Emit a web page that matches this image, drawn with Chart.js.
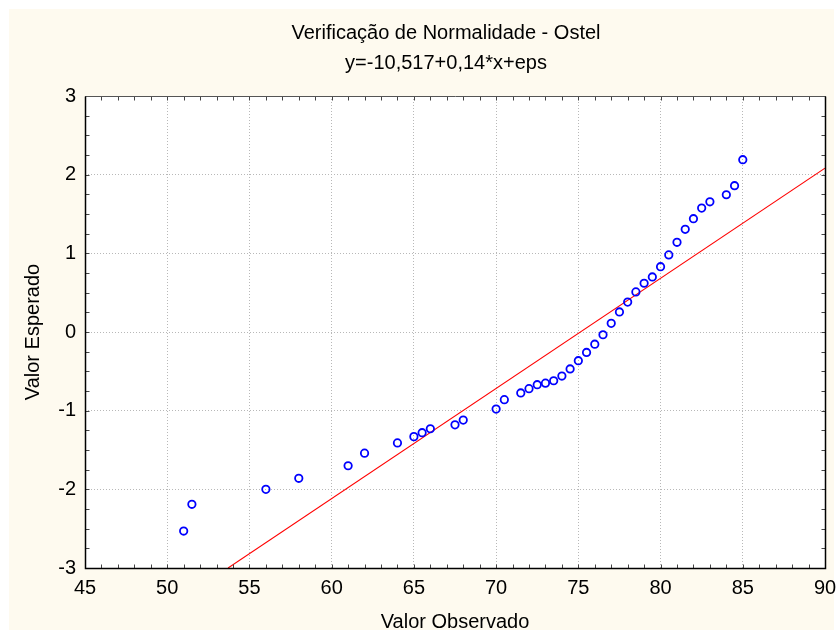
<!DOCTYPE html>
<html>
<head>
<meta charset="utf-8">
<script src="https://cdn.jsdelivr.net/npm/chart.js@4/dist/chart.umd.min.js"></script>
<style>
html,body{margin:0;padding:0;background:#ffffff;}
canvas{display:block;}
</style>
</head>
<body>
<canvas id="c" width="839" height="634"></canvas>
<script>
// ---- data ----
const chartTitle = ['Verificação de Normalidade - Ostel', 'y=-10,517+0,14*x+eps'];
const xAxisTitle = 'Valor Observado';
const yAxisTitle = 'Valor Esperado';

const observed = [51, 51.5, 56, 58, 61, 62, 64, 65, 65.5, 66, 67.5, 68, 70, 70.5, 71.5, 72, 72.5, 73, 73.5, 74,
  74.5, 75, 75.5, 76, 76.5, 77, 77.5, 78, 78.5, 79, 79.5, 80, 80.5, 81, 81.5, 82, 82.5, 83, 84, 84.5, 85];
const expected = [-2.53, -2.19, -2.00, -1.86, -1.70, -1.54, -1.41, -1.33, -1.28, -1.23, -1.18, -1.12, -0.98, -0.86,
  -0.775, -0.72, -0.67, -0.65, -0.62, -0.56, -0.47, -0.365, -0.26, -0.155, -0.035, 0.11, 0.255, 0.38, 0.51, 0.62,
  0.70, 0.83, 0.98, 1.14, 1.305, 1.44, 1.575, 1.655, 1.745, 1.86, 2.19];

// fitted line endpoints
const fitX = [53.7, 90];
const fitY = [-3, 2.083];

const xRange = [45, 90];
const yRange = [-3, 3];

const FONT = '"Liberation Sans", Arial, sans-serif';

const scatterData = observed.map((v, i) => ({x: v, y: expected[i]}));
const fitData = fitX.map((v, i) => ({x: v, y: fitY[i]}));

const bgPlugin = {
  id: 'bg',
  afterLayout(chart) {
    // centre the title block as in the reference
    const tb = chart.titleBlock;
    if (tb) { tb.left = 52; tb.right = 840; tb.width = 788; }
  },
  beforeDraw(chart) {
    const {ctx, chartArea: a, width, height} = chart;
    ctx.save();
    ctx.fillStyle = '#ffffff';
    ctx.fillRect(0, 0, width, height);
    ctx.fillStyle = '#fefaef';
    ctx.fillRect(9, 9, width - 14, height - 13);
    ctx.fillStyle = '#ffffff';
    ctx.fillRect(a.left, a.top, a.right - a.left, a.bottom - a.top);
    ctx.restore();
  }
};

const framePlugin = {
  id: 'frame',
  afterDraw(chart) {
    const {ctx, chartArea: a, scales} = chart;
    const xs = scales.x, ys = scales.y;
    ctx.save();
    ctx.lineWidth = 1;
    const L = Math.round(a.left) + 0.5, R = Math.round(a.right) + 0.5;
    const T = Math.round(a.top) + 0.5, B = Math.round(a.bottom) + 0.5;
    ctx.beginPath();
    for (let v = xRange[0]; v <= xRange[1]; v += 1) {
      const px = Math.round(xs.getPixelForValue(v)) + 0.5;
      ctx.moveTo(px, B); ctx.lineTo(px, B - 4);
      ctx.moveTo(px, T); ctx.lineTo(px, T + 4);
    }
    for (let v = yRange[0]; v <= yRange[1] + 1e-9; v += 0.25) {
      const py = Math.round(ys.getPixelForValue(v)) + 0.5;
      ctx.moveTo(L, py); ctx.lineTo(L + 4, py);
      ctx.moveTo(R, py); ctx.lineTo(R - 4, py);
    }
    ctx.strokeStyle = '#444444';
    ctx.stroke();
    ctx.beginPath();
    ctx.strokeStyle = '#555555';
    ctx.moveTo(L, T); ctx.lineTo(R, T);
    ctx.stroke();
    ctx.beginPath();
    ctx.strokeStyle = '#000000';
    ctx.lineWidth = 1.5;
    ctx.moveTo(L, T); ctx.lineTo(L, B); ctx.lineTo(R, B); ctx.lineTo(R, T);
    ctx.stroke();
    ctx.restore();
  }
};

new Chart(document.getElementById('c'), {
  type: 'scatter',
  data: {
    datasets: [
      {
        type: 'line',
        data: fitData,
        borderColor: '#ff0000',
        borderWidth: 1.1,
        pointRadius: 0,
        fill: false,
        order: 2
      },
      {
        data: scatterData,
        pointStyle: 'circle',
        pointRadius: 3.7,
        pointBorderWidth: 1.8,
        pointBorderColor: '#0000ff',
        pointBackgroundColor: 'rgba(0,0,0,0)',
        order: 1
      }
    ]
  },
  options: {
    responsive: false,
    devicePixelRatio: 1,
    animation: false,
    layout: {padding: {top: 0, right: 14, bottom: 0, left: 0}},
    plugins: {
      legend: {display: false},
      tooltip: {enabled: false},
      title: {
        display: true,
        text: chartTitle,
        color: '#000000',
        font: {family: FONT, size: 20, weight: 'normal', lineHeight: 1.5},
        padding: {top: 18, bottom: 18}
      }
    },
    scales: {
      x: {
        type: 'linear',
        min: xRange[0], max: xRange[1],
        afterFit(s) { s.height = 66; s.paddingLeft = 0; s.paddingRight = 0; },
        ticks: {stepSize: 5, color: '#000000', padding: 8, font: {family: FONT, size: 20}, maxRotation: 0},
        grid: {color: '#b8b8b8', drawTicks: false, lineWidth: 1},
        border: {display: false, dash: [1, 2]},
        title: {display: true, text: xAxisTitle, color: '#000000', font: {family: FONT, size: 20}, padding: {top: 0, bottom: 0}}
      },
      y: {
        type: 'linear',
        min: yRange[0], max: yRange[1],
        afterFit(s) { s.width = 85; },
        ticks: {stepSize: 1, color: '#000000', padding: 9, font: {family: FONT, size: 20}},
        grid: {color: '#b8b8b8', drawTicks: false, lineWidth: 1},
        border: {display: false, dash: [1, 2]},
        title: {display: true, text: yAxisTitle, color: '#000000', font: {family: FONT, size: 20}, padding: {top: 21, bottom: 0}}
      }
    }
  },
  plugins: [bgPlugin, framePlugin]
});
</script>
</body>
</html>
